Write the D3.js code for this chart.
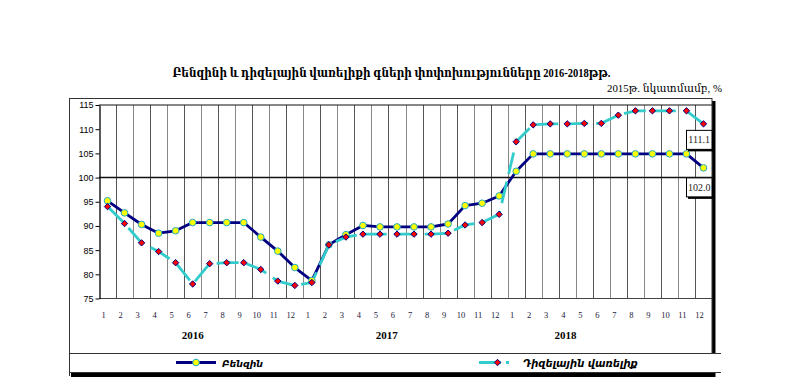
<!DOCTYPE html>
<html><head><meta charset="utf-8">
<script src="https://cdn.jsdelivr.net/npm/d3@7"></script>
<style>body{margin:0;background:#fff}svg{display:block}</style>
</head><body>
<script>
const months = ["1","2","3","4","5","6","7","8","9","10","11","12","1","2","3","4","5","6","7","8","9","10","11","12","1","2","3","4","5","6","7","8","9","10","11","12"];
const years = ["2016","2017","2018"];
const yTicks = [75,80,85,90,95,100,105,110,115];
const gasoline = [95.2,92.7,90.3,88.5,89.0,90.7,90.7,90.7,90.7,87.7,84.8,81.4,
                  78.7,86.1,88.2,90.1,89.8,89.8,89.8,89.8,90.4,94.2,94.7,96.2,
                  101.3,104.9,104.9,104.9,104.9,104.9,104.9,104.9,104.9,104.9,104.9,102.0];
const diesel = [94.0,90.5,86.5,84.7,82.4,78.0,82.2,82.4,82.4,81.0,78.6,77.7,
                78.3,86.1,87.7,88.3,88.3,88.3,88.3,88.3,88.5,90.2,90.7,92.4,
                107.4,110.9,111.1,111.1,111.2,111.2,112.9,113.8,113.8,113.8,113.8,111.1];
const seriesNames = ["Բենզին","Դիզելային վառելիք"];
const title = "Բենզինի և դիզելային վառելիքի գների փոփոխությունները 2016-2018թթ.";
const subtitle = "2015թ. նկատմամբ, %";

const W = 785, H = 384;
const svg = d3.select("body").append("svg").attr("width", W).attr("height", H);
const serif = "'Liberation Serif','DejaVu Serif',serif";
const sans = "'Liberation Sans',Arial,'DejaVu Sans',sans-serif";

function fit(sel, target) {
  const n = sel.node();
  const fs = parseFloat(sel.attr("font-size"));
  const w = n.getComputedTextLength();
  if (w > 0) sel.attr("font-size", fs * target / w);
}

// frame + shadows
svg.append("rect").attr("x", 712).attr("y", 101).attr("width", 3.5).attr("height", 252).attr("fill", "#000");
svg.append("rect").attr("x", 71).attr("y", 373).attr("width", 644.5).attr("height", 4).attr("fill", "#000");
svg.append("rect").attr("x", 69.5).attr("y", 98.5).attr("width", 642.5).attr("height", 255)
  .attr("fill", "none").attr("stroke", "#333").attr("stroke-width", 1);
// legend box
svg.append("line").attr("x1", 69.5).attr("x2", 721).attr("y1", 353.5).attr("y2", 353.5).attr("stroke", "#333");
svg.append("line").attr("x1", 69.5).attr("x2", 721).attr("y1", 372.5).attr("y2", 372.5).attr("stroke", "#333");
svg.append("line").attr("x1", 69.5).attr("x2", 69.5).attr("y1", 353.5).attr("y2", 376).attr("stroke", "#333");

// scales
const x = d3.scaleBand().domain(d3.range(months.length)).range([99, 712]).padding(0);
const y = d3.scaleLinear().domain([75, 115]).range([298.5, 105]);
const cx = i => x(i) + x.bandwidth() / 2;

// vertical gridlines
const g = svg.append("g");
g.selectAll("line.vg").data(d3.range(1, months.length)).join("line")
  .attr("x1", i => Math.round(x(i)) + 0.5).attr("x2", i => Math.round(x(i)) + 0.5)
  .attr("y1", y(115)).attr("y2", y(75))
  .attr("stroke", (i) => i % 2 ? "#555" : "#888").attr("stroke-width", 1);
// top border and 100 line
g.append("line").attr("x1", 99).attr("x2", 712).attr("y1", y(115)).attr("y2", y(115)).attr("stroke", "#111").attr("stroke-width", 1.2);
g.append("line").attr("x1", 99).attr("x2", 712).attr("y1", y(100)).attr("y2", y(100)).attr("stroke", "#111").attr("stroke-width", 1.4);
g.append("line").attr("x1", 99).attr("x2", 712).attr("y1", y(75)).attr("y2", y(75)).attr("stroke", "#444").attr("stroke-width", 1.2);

// y axis
const yAxis = svg.append("g").attr("transform", "translate(99.5,0)")
  .call(d3.axisLeft(y).tickValues(yTicks).tickSize(4).tickSizeOuter(0).tickPadding(2));
yAxis.select(".domain").attr("stroke", "#000").attr("stroke-width", 1.3);
yAxis.selectAll(".tick line").attr("stroke", "#000");
yAxis.selectAll("text").attr("font-family", sans).attr("font-size", 9).attr("fill", "#000");

// month labels
svg.append("g").selectAll("text").data(months).join("text")
  .attr("x", (d, i) => cx(i) - 4).attr("y", 318)
  .attr("text-anchor", "middle").attr("font-family", serif).attr("font-size", 8.5)
  .attr("fill", "#1a1a3a").text(d => d);
// year labels
const yearPos = [5.5, 16.9, 27.4];
svg.append("g").selectAll("text").data(years).join("text")
  .attr("x", (d, i) => x(0) + yearPos[i] * x.bandwidth()).attr("y", 339)
  .attr("text-anchor", "middle").attr("font-family", serif).attr("font-weight", "bold")
  .attr("font-size", 11).text(d => d);

// lines
const line = d3.line().x((d, i) => cx(i)).y(d => y(d));
svg.append("path").datum(gasoline).attr("d", line).attr("fill", "none")
  .attr("stroke", "#000080").attr("stroke-width", 2.8).attr("stroke-linejoin", "round");
svg.append("path").datum(diesel).attr("d", line).attr("fill", "none")
  .attr("stroke", "#33cccc").attr("stroke-width", 2.8).attr("stroke-dasharray", "22,8");

// markers
svg.append("g").selectAll("circle").data(gasoline).join("circle")
  .attr("cx", (d, i) => cx(i)).attr("cy", d => y(d)).attr("r", 3.3)
  .attr("fill", "#ffff00").attr("stroke", "#1fa8c8").attr("stroke-width", 1);
const diamond = d3.symbol().type(d3.symbolDiamond2).size(26);
svg.append("g").selectAll("path").data(diesel).join("path")
  .attr("transform", (d, i) => `translate(${cx(i)},${y(d)})`).attr("d", diamond)
  .attr("fill", "#ff0000").attr("stroke", "#000080").attr("stroke-width", 1);

// end value labels
function endLabel(val, yc) {
  const bx = 686, bw = 25.5, bh = 19;
  svg.append("rect").attr("x", bx + 2).attr("y", yc - bh / 2 + 2.5).attr("width", bw).attr("height", bh).attr("fill", "#000");
  svg.append("rect").attr("x", bx + 0.5).attr("y", yc - bh / 2 + 0.5).attr("width", bw).attr("height", bh)
    .attr("fill", "#fff").attr("stroke", "#000").attr("stroke-width", 1);
  svg.append("text").attr("x", bx + 0.5 + bw / 2).attr("y", yc + 4).attr("text-anchor", "middle")
    .attr("font-family", serif).attr("font-size", 10).attr("fill", "#222").text(val.toFixed(1));
}
endLabel(diesel[diesel.length - 1], y(diesel[diesel.length - 1]) + 15.5);
endLabel(gasoline[gasoline.length - 1], y(gasoline[gasoline.length - 1]) + 19);

// title
svg.append("text").attr("x", 391.5).attr("y", 77).attr("text-anchor", "middle")
  .attr("font-family", serif).attr("font-weight", "bold").attr("font-size", 12.5)
  .attr("textLength", 438).attr("lengthAdjust", "spacingAndGlyphs").text(title);
svg.append("text").attr("x", 722).attr("y", 91.5).attr("text-anchor", "end")
  .attr("font-family", serif).attr("font-size", 10.5)
  .attr("textLength", 115).attr("lengthAdjust", "spacingAndGlyphs").text(subtitle);

// legend
const ly = 362.5;
svg.append("line").attr("x1", 176).attr("x2", 216).attr("y1", ly).attr("y2", ly).attr("stroke", "#000080").attr("stroke-width", 2.8);
svg.append("circle").attr("cx", 196).attr("cy", ly).attr("r", 3.3).attr("fill", "#ffff00").attr("stroke", "#1fa8c8");
const l1 = svg.append("text").attr("x", 222).attr("y", ly + 4).attr("font-family", "'DejaVu Sans',sans-serif")
  .attr("font-weight", "bold").attr("font-style", "italic").attr("font-size", 10).text(seriesNames[0]);
fit(l1, 41);
svg.append("line").attr("x1", 479).attr("x2", 509).attr("y1", ly).attr("y2", ly).attr("stroke", "#33cccc").attr("stroke-width", 2.8).attr("stroke-dasharray", "22,5");
svg.append("path").attr("transform", `translate(497.5,${ly})`).attr("d", diamond).attr("fill", "#ff0000").attr("stroke", "#000080");
const l2 = svg.append("text").attr("x", 523).attr("y", ly + 4).attr("font-family", "'DejaVu Sans',sans-serif")
  .attr("font-weight", "bold").attr("font-style", "italic").attr("font-size", 10).text(seriesNames[1]);
fit(l2, 115);
</script>
</body></html>
